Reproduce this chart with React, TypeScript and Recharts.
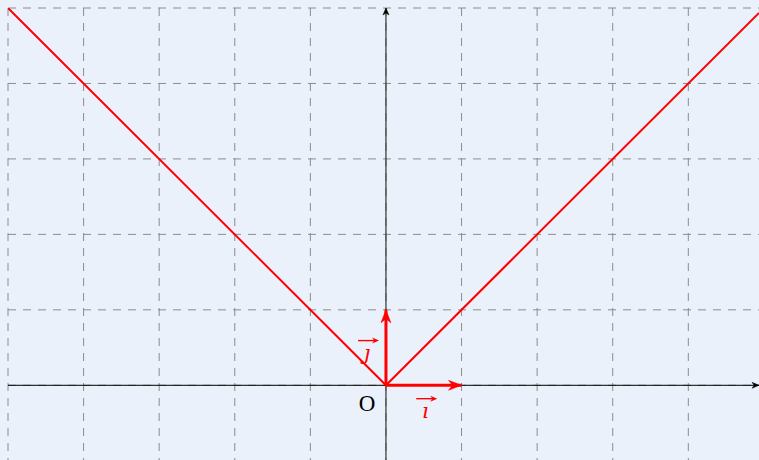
import { LineChart, Line, XAxis, YAxis, CartesianGrid, ReferenceDot } from 'recharts';

// plot window (data units)
const X_MIN = -5;
const X_MAX = 4.935;
const Y_MIN = -0.99;
const Y_MAX = 5;

const xTicks = [-5, -4, -3, -2, -1, 0, 1, 2, 3, 4];
const yTicks = [0, 1, 2, 3, 4, 5];

// y = |x|
const curveX = [-5, 0, 4.935];
const curveY = [5, 0, 4.935];

// unit vectors i and j
const vecIX = [0, 1];
const vecIY = [0, 0];
const vecJX = [0, 0];
const vecJY = [0, 1];

const curveData = curveX.map((x, i) => ({ x, y: curveY[i] }));
const vecIData = vecIX.map((x, i) => ({ x, y: vecIY[i] }));
const vecJData = vecJX.map((x, i) => ({ x, y: vecJY[i] }));
const xAxisData = [{ x: X_MIN, y: 0 }, { x: X_MAX, y: 0 }];
const yAxisData = [{ x: 0, y: Y_MIN }, { x: 0, y: Y_MAX }];

const RED = '#ff0000';
const BG = '#eaf1fb';

const arrowPath = (cx: number, cy: number, dx: number, dy: number, len: number, w: number) => {
  const px = -dy;
  const py = dx;
  const bx = cx - dx * len;
  const by = cy - dy * len;
  const nx = cx - dx * len * 0.7;
  const ny = cy - dy * len * 0.7;
  return `M${cx},${cy} L${bx + (px * w) / 2},${by + (py * w) / 2} L${nx},${ny} L${bx - (px * w) / 2},${by - (py * w) / 2} Z`;
};

const arrowDot = (dx: number, dy: number, len: number, w: number, color: string, last: number) => (props: any) => {
  const { cx, cy, index } = props;
  if (index !== last || cx == null || cy == null) return <g key={`d${index}`} />;
  return <path key={`d${index}`} d={arrowPath(cx, cy, dx, dy, len, w)} fill={color} stroke={color} strokeWidth={0.5} />;
};

const scaleOf = (axis: any) => (v: number) => {
  const s = axis?.scale;
  if (typeof s === 'function') return s(v);
  if (s && typeof s.map === 'function') return s.map(v);
  return NaN;
};

const VecLabel = ({ cx, cy, ch }: any) => (
  <g>
    <line x1={cx - 9} y1={cy - 10} x2={cx + 9} y2={cy - 10} stroke={RED} strokeWidth={1.4} />
    <path d={arrowPath(cx + 12, cy - 10, 1, 0, 7, 6)} fill={RED} />
    <text x={cx} y={cy + 9} textAnchor="middle" fill={RED} fontFamily="'DejaVu Serif', serif" fontStyle="italic" fontSize={21}>
      {ch}
    </text>
  </g>
);

const OriginLabel = ({ cx, cy }: any) => (
  <text x={cx} y={cy} textAnchor="middle" dominantBaseline="central" fill="#000" fontFamily="'Liberation Serif', serif" fontSize={23}>
    O
  </text>
);

export default function App() {
  return (
    <div style={{ position: 'absolute', left: 0, top: 0, width: 759, height: 460, background: BG }}>
      <LineChart width={759} height={460} margin={{ top: 8, right: 0, left: 8, bottom: 0 }}>
        <XAxis type="number" dataKey="x" domain={[X_MIN, X_MAX]} ticks={xTicks} allowDataOverflow hide />
        <YAxis type="number" dataKey="y" domain={[Y_MIN, Y_MAX]} ticks={yTicks} allowDataOverflow hide />
        <CartesianGrid
          stroke="#8c8c8c"
          strokeDasharray="8 7"
          strokeWidth={1}
          horizontalCoordinatesGenerator={({ yAxis }: any) => yTicks.map(scaleOf(yAxis)).filter((v) => !isNaN(v))}
          verticalCoordinatesGenerator={({ xAxis }: any) => xTicks.map(scaleOf(xAxis)).filter((v) => !isNaN(v))}
        />
        <Line data={xAxisData} dataKey="y" stroke="#000" strokeWidth={1} isAnimationActive={false}
          dot={arrowDot(1, 0, 7, 6, '#000', 1)} activeDot={false} />
        <Line data={yAxisData} dataKey="y" stroke="#333" strokeWidth={1.2} isAnimationActive={false}
          dot={arrowDot(0, -1, 7, 6, '#000', 1)} activeDot={false} />
        <Line data={curveData} dataKey="y" type="linear" stroke={RED} strokeWidth={2} isAnimationActive={false}
          dot={false} activeDot={false} />
        <Line data={vecIData} dataKey="y" stroke={RED} strokeWidth={3} isAnimationActive={false}
          dot={arrowDot(1, 0, 13, 10, RED, 1)} activeDot={false} />
        <Line data={vecJData} dataKey="y" stroke={RED} strokeWidth={3} isAnimationActive={false}
          dot={arrowDot(0, -1, 13, 10, RED, 1)} activeDot={false} />
        <ReferenceDot x={-0.25} y={-0.24} r={0} shape={(p: any) => <OriginLabel {...p} />} />
        <ReferenceDot x={0.52} y={-0.31} r={0} shape={(p: any) => <VecLabel {...p} ch={'\u0131'} />} />
        <ReferenceDot x={-0.25} y={0.46} r={0} shape={(p: any) => <VecLabel {...p} ch={'\u0237'} />} />
      </LineChart>
    </div>
  );
}
